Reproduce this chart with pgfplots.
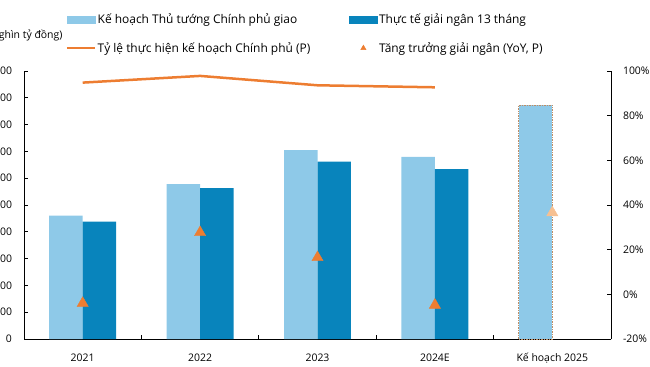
\documentclass[border=0pt]{standalone}
\usepackage{fontspec}
\setmainfont{Open Sans}
\usepackage{pgfplots}
\pgfplotsset{compat=1.18}
\definecolor{lblue}{RGB}{142,201,232}
\definecolor{dblue}{RGB}{8,132,188}
\definecolor{orng}{RGB}{237,125,49}
\definecolor{lorng}{RGB}{246,192,146}
\definecolor{bord}{RGB}{190,140,100}
\begin{document}
\begin{tikzpicture}[x=1bp,y=1bp]
\pgfplotsset{
  common/.style={
    at={(24bp,27bp)}, anchor=south west,
    scale only axis, width=587bp, height=268bp,
    xmin=-0.5, xmax=4.5,
    font=\fontsize{10.5}{12}\selectfont,
    /pgf/number format/assume math mode=true,
    tick align=inside,
    major tick length=4bp,
    tick style={black, line width=0.8pt},
    axis line style={black, line width=0.8pt},
  }
}
\begin{axis}[common,
  ymin=0, ymax=1000,
  axis x line*=bottom, axis y line*=left,
  xtick={0.5,1.5,2.5,3.5}, xticklabels={},
  extra x ticks={0,1,2,3,4},
  extra x tick labels={2021,2022,2023,2024E,Kế hoạch 2025},
  extra x tick style={major tick length=0pt, xticklabel style={anchor=base, yshift=-22bp}},
  ytick={0,100,...,1000},
  yticklabel style={xshift=-8.5bp},
  /pgf/number format/.cd, 1000 sep={.},
]
\addplot[ybar, bar width=0.285, bar shift=-0.1425, fill=lblue, draw=none] coordinates {(0,460)(1,578)(2,705)(3,680)};
\addplot[ybar, bar width=0.285, bar shift=0.1425, fill=dblue, draw=none] coordinates {(0,438)(1,563)(2,662)(3,634)};
\addplot[ybar, bar width=0.285, bar shift=-0.1425, fill=lblue, draw=bord, dash pattern=on 1.5pt off 1pt, line width=0.9pt] coordinates {(4,873)};
\end{axis}
\begin{axis}[common,
  ymin=-20, ymax=100,
  axis x line=none, axis y line*=right,
  ytick={-20,0,...,100},
  yticklabel={\pgfmathprintnumber{\tick}\%},
  yticklabel style={xshift=8.5bp},
  legend columns=2,
  legend cell align=left,
  legend style={draw=none, fill=none, inner sep=0pt,
    at={(0.0707,1.2185)}, anchor=north west,
    nodes={inner sep=1.5bp},
    font=\fontsize{12}{14}\selectfont,
    /tikz/every odd column/.append style={column sep=0bp},
    row sep=14bp},
]
\addlegendimage{legend image code/.code={\fill[lblue] (0bp,-3.5bp) rectangle (28bp,3.5bp);}}
\addlegendentry{\makebox[250bp][l]{Kế hoạch Thủ tướng Chính phủ giao}}
\addlegendimage{legend image code/.code={\fill[dblue] (0bp,-3.5bp) rectangle (28bp,3.5bp);}}
\addlegendentry{Thực tế giải ngân 13 tháng}
\addlegendimage{legend image code/.code={\draw[orng, line width=2.5bp] (0bp,0bp) -- (28bp,0bp);}}
\addlegendentry{\makebox[250bp][l]{Tỷ lệ thực hiện kế hoạch Chính phủ (P)}}
\addlegendimage{legend image code/.code={\path[draw=orng, fill=orng] plot[only marks, mark=triangle*, mark size=3bp] coordinates {(14bp,0bp)};}}
\addlegendentry{Tăng trưởng giải ngân (YoY, P)}
\addplot[orng, line width=2.5bp, mark=none, forget plot] coordinates {(0,94.8)(1,97.8)(2,93.6)(3,92.7)};
\addplot[only marks, mark=triangle*, mark size=6.5bp, color=orng, forget plot] coordinates {(0,-4)(1,27.7)(2,16.5)(3,-4.8)};
\addplot[only marks, mark=triangle*, mark size=6.5bp, color=lorng, forget plot] coordinates {(4,36.6)};
\end{axis}
\node[anchor=east, font=\fontsize{10.5}{12}\selectfont] at (66,331) {(Nghìn tỷ đồng)};
\pgfresetboundingbox
\path[use as bounding box] (0,0) rectangle (650,366);
\end{tikzpicture}
\end{document}
